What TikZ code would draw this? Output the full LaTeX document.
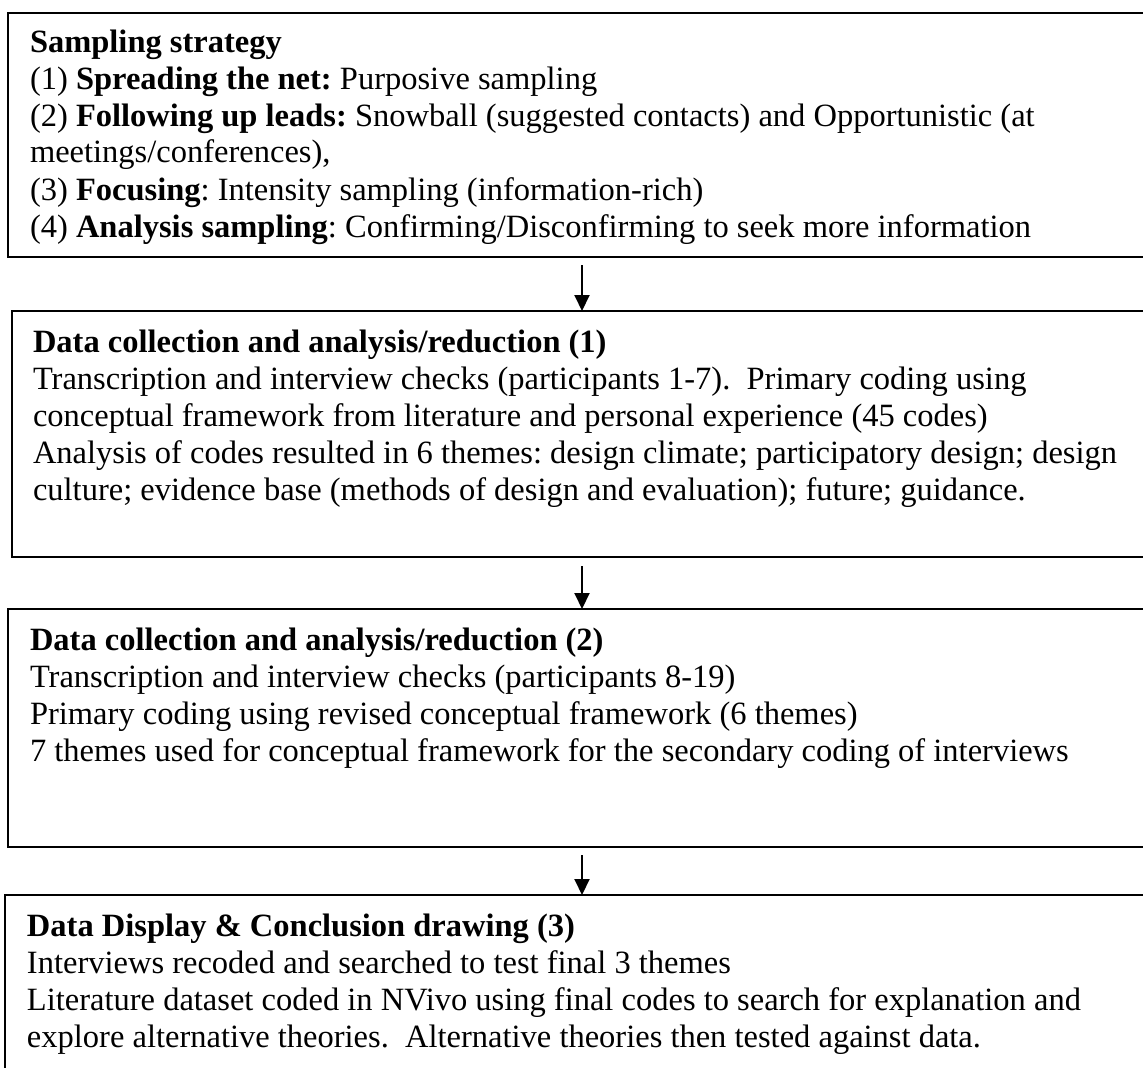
\documentclass[tikz,border=0pt]{standalone}
\usepackage{fontspec}
\setmainfont{Liberation Serif}
\usetikzlibrary{arrows.meta}
\newcommand{\boxfont}{\fontsize{32.5}{37}\selectfont\frenchspacing}
\begin{document}
\begin{tikzpicture}[x=1pt,y=-1pt,
  box/.style={draw=black, line width=2pt, rectangle, inner sep=0pt, outer sep=0pt, anchor=north west},
  txt/.style={anchor=base west, inner sep=0pt, outer sep=0pt},
  arr/.style={line width=2pt, -{Triangle[length=16pt,width=15pt]}}]
\clip (0,0) rectangle (1143,1068);
\fill[white] (0,0) rectangle (1143,1068);
% boxes
\node[box, minimum width=1200pt, minimum height=244pt] (b1) at (8,13) {};
\node[box, minimum width=1200pt, minimum height=246pt] (b2) at (12,311) {};
\node[box, minimum width=1200pt, minimum height=238pt] (b3) at (8,609) {};
\node[box, minimum width=1200pt, minimum height=210pt] (b4) at (5,895) {};
% texts
\node[txt] (t1) at (30,52) {\parbox[t]{1300pt}{\boxfont
\textbf{Sampling strategy}\\
(1) \textbf{Spreading the net:} Purposive sampling\\
(2) \textbf{Following up leads:} Snowball (suggested contacts) and Opportunistic (at\\
meetings/conferences),\\
(3) \textbf{Focusing}: Intensity sampling (information-rich)\\
(4) \textbf{Analysis sampling}: Confirming/Disconfirming to seek more information}};
\node[txt] (t2) at (33,352) {\parbox[t]{1300pt}{\boxfont
\textbf{Data collection and analysis/reduction (1)}\\
Transcription and interview checks (participants 1-7).\ \ Primary coding using\\
conceptual framework from literature and personal experience (45 codes)\\
Analysis of codes resulted in 6 themes: design climate; participatory design; design\\
culture; evidence base (methods of design and evaluation); future; guidance.}};
\node[txt] (t3) at (30,650) {\parbox[t]{1300pt}{\boxfont
\textbf{Data collection and analysis/reduction (2)}\\
Transcription and interview checks (participants 8-19)\\
Primary coding using revised conceptual framework (6 themes)\\
7 themes used for conceptual framework for the secondary coding of interviews}};
\node[txt] (t4) at (27,936) {\parbox[t]{1300pt}{\boxfont
\textbf{Data Display \& Conclusion drawing (3)}\\
Interviews recoded and searched to test final 3 themes\\
Literature dataset coded in NVivo using final codes to search for explanation and\\
explore alternative theories.\ \ Alternative theories then tested against data.}};
% arrows
\coordinate (a1) at (582,265);
\coordinate (a2) at (582,566);
\coordinate (a3) at (582,855);
\draw[arr] (a1) -- (a1 |- b2.north);
\draw[arr] (a2) -- (a2 |- b3.north);
\draw[arr] (a3) -- (a3 |- b4.north);
\end{tikzpicture}
\end{document}
